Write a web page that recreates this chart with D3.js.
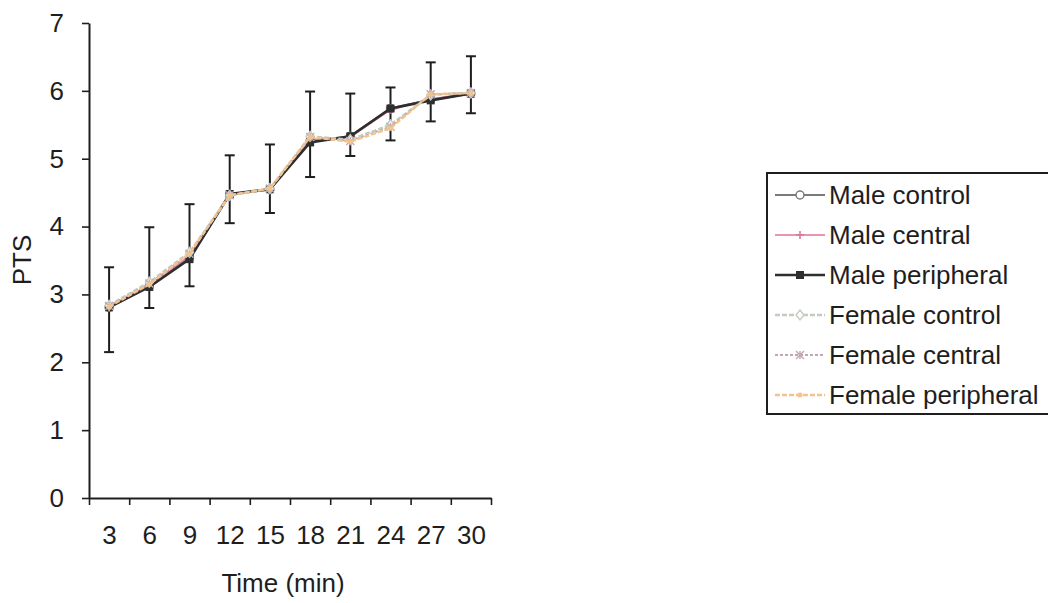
<!DOCTYPE html>
<html>
<head>
<meta charset="utf-8">
<script src="https://cdn.jsdelivr.net/npm/d3@7/dist/d3.min.js"></script>
<style>
  html, body { margin: 0; padding: 0; background: #fff; }
  svg { display: block; font-family: "Liberation Sans", Arial, sans-serif; }
</style>
</head>
<body>
<svg id="chart" width="1048" height="603"></svg>
<script>
// Time points (min)
const times = [3, 6, 9, 12, 15, 18, 21, 24, 27, 30];

// Mean PTS per group
const maleControl      = [2.81, 3.12, 3.54, 4.47, 4.55, 5.26, 5.33, 5.74, 5.87, 5.96];
const maleCentral      = [2.82, 3.14, 3.57, 4.47, 4.55, 5.28, 5.32, 5.72, 5.88, 5.96];
const malePeripheral   = [2.81, 3.11, 3.52, 4.48, 4.55, 5.24, 5.33, 5.74, 5.86, 5.96];
const femaleControl    = [2.84, 3.18, 3.62, 4.46, 4.56, 5.33, 5.28, 5.50, 5.94, 5.97];
const femaleCentral    = [2.83, 3.16, 3.60, 4.46, 4.56, 5.32, 5.26, 5.47, 5.95, 5.97];
const femalePeripheral = [2.82, 3.15, 3.60, 4.46, 4.56, 5.32, 5.25, 5.45, 5.95, 5.97];

// Error bar extents
const errLow  = [2.15, 2.80, 3.12, 4.05, 4.20, 4.73, 5.04, 5.27, 5.55, 5.67];
const errHigh = [3.40, 3.99, 4.33, 5.05, 5.21, 5.99, 5.96, 6.05, 6.42, 6.51];

const yTicks = [0, 1, 2, 3, 4, 5, 6, 7];
const seriesNames = ["Male control", "Male central", "Male peripheral",
                     "Female control", "Female central", "Female peripheral"];
const seriesValues = [maleControl, maleCentral, malePeripheral,
                      femaleControl, femaleCentral, femalePeripheral];

const styles = [
  { color: "#7a7a7a", width: 2.2, dash: null,  marker: "circle" },
  { color: "#e0709a", width: 1.6, dash: null,  marker: "plus" },
  { color: "#2e2e2e", width: 2.6, dash: null,  marker: "square" },
  { color: "#c4ccbc", width: 2.4, dash: "5,2", marker: "diamond" },
  { color: "#c2a6b4", width: 1.8, dash: "3,2", marker: "star" },
  { color: "#f2c48c", width: 2.4, dash: "5,2", marker: "dot" }
];

const svg = d3.select("#chart");
const textColor = "#1e1e1e";
const fontSize = "26px";

const x = d3.scaleLinear().domain([1.5, 31.5]).range([89, 491]);
const y = d3.scaleLinear().domain([0, 7]).range([498, 23]);

// Y axis
const yAxis = svg.append("g").attr("transform", "translate(89,0)")
  .call(d3.axisLeft(y).tickValues(yTicks).tickFormat(d3.format("d"))
    .tickSize(7).tickSizeOuter(0).tickPadding(18));
yAxis.select(".domain").attr("stroke", textColor).attr("stroke-width", 2);
yAxis.selectAll(".tick line").attr("stroke", textColor).attr("stroke-width", 1.6);
yAxis.selectAll(".tick text").attr("fill", textColor).style("font-size", fontSize)
  .style("font-family", "Liberation Sans, Arial, sans-serif");

// X axis: ticks between categories, labels at categories
const boundaries = d3.range(0, times.length + 1).map(i => 1.5 + 3 * i);
const xAxis = svg.append("g").attr("transform", "translate(0,498)")
  .call(d3.axisBottom(x).tickValues(boundaries).tickFormat("").tickSize(7).tickSizeOuter(0));
xAxis.select(".domain").attr("stroke", textColor).attr("stroke-width", 2);
xAxis.selectAll(".tick line").attr("stroke", textColor).attr("stroke-width", 1.6);

const xLabels = svg.append("g").attr("transform", "translate(0,498)")
  .call(d3.axisBottom(x).tickValues(times).tickSize(0).tickPadding(28));
xLabels.select(".domain").remove();
xLabels.selectAll(".tick text").attr("fill", textColor).style("font-size", fontSize)
  .style("font-family", "Liberation Sans, Arial, sans-serif");

// Axis titles
svg.append("text").attr("x", 283).attr("y", 592).attr("text-anchor", "middle")
  .attr("fill", textColor).style("font-size", fontSize).text("Time (min)");
svg.append("text").attr("transform", "translate(31,260) rotate(-90)")
  .attr("text-anchor", "middle").attr("fill", textColor).style("font-size", fontSize).text("PTS");

// Markers
function drawMarker(g, type, cx, cy, color) {
  const s = 4;
  if (type === "circle") {
    g.append("circle").attr("cx", cx).attr("cy", cy).attr("r", s)
      .attr("fill", "#fff").attr("stroke", color).attr("stroke-width", 1.5);
  } else if (type === "square") {
    g.append("rect").attr("x", cx - s).attr("y", cy - s).attr("width", 2 * s).attr("height", 2 * s)
      .attr("fill", color);
  } else if (type === "plus") {
    g.append("path").attr("d", `M${cx - s},${cy}H${cx + s}M${cx},${cy - s}V${cy + s}`)
      .attr("stroke", color).attr("stroke-width", 1.5);
  } else if (type === "diamond") {
    g.append("path").attr("d", `M${cx},${cy - s - 1}L${cx + s},${cy}L${cx},${cy + s + 1}L${cx - s},${cy}Z`)
      .attr("fill", "#fff").attr("stroke", color).attr("stroke-width", 1.4);
  } else if (type === "star") {
    g.append("path")
      .attr("d", `M${cx - s},${cy - s}L${cx + s},${cy + s}M${cx - s},${cy + s}L${cx + s},${cy - s}M${cx},${cy - s}V${cy + s}`)
      .attr("stroke", color).attr("stroke-width", 1.4);
  } else if (type === "dot") {
    g.append("circle").attr("cx", cx).attr("cy", cy).attr("r", 2.5).attr("fill", color);
  }
}

// Error bars
const errG = svg.append("g").attr("stroke", "#1e1e1e").attr("stroke-width", 2);
times.forEach((t, i) => {
  const cx = x(t);
  errG.append("line").attr("x1", cx).attr("x2", cx).attr("y1", y(errLow[i])).attr("y2", y(errHigh[i]));
  errG.append("line").attr("x1", cx - 5).attr("x2", cx + 5).attr("y1", y(errLow[i])).attr("y2", y(errLow[i]));
  errG.append("line").attr("x1", cx - 5).attr("x2", cx + 5).attr("y1", y(errHigh[i])).attr("y2", y(errHigh[i]));
});

// Series lines and markers
const line = d3.line().x((d, i) => x(times[i])).y(d => y(d));
seriesValues.forEach((vals, k) => {
  const st = styles[k];
  const g = svg.append("g");
  g.append("path").datum(vals).attr("d", line).attr("fill", "none")
    .attr("stroke", st.color).attr("stroke-width", st.width)
    .attr("stroke-dasharray", st.dash);
  vals.forEach((v, i) => drawMarker(g, st.marker, x(times[i]), y(v), st.color));
});

// Legend
const legend = svg.append("g");
legend.append("rect").attr("x", 767).attr("y", 173).attr("width", 320).attr("height", 241)
  .attr("fill", "#fff").attr("stroke", "#1e1e1e").attr("stroke-width", 2);
seriesNames.forEach((name, k) => {
  const st = styles[k];
  const cy = 195 + k * 40;
  legend.append("line").attr("x1", 775).attr("x2", 825).attr("y1", cy).attr("y2", cy)
    .attr("stroke", st.color).attr("stroke-width", st.width).attr("stroke-dasharray", st.dash);
  drawMarker(legend, st.marker, 800, cy, st.color);
  legend.append("text").attr("x", 829).attr("y", cy).attr("dy", "0.35em")
    .attr("fill", textColor).style("font-size", fontSize).text(name);
});
</script>
</body>
</html>
